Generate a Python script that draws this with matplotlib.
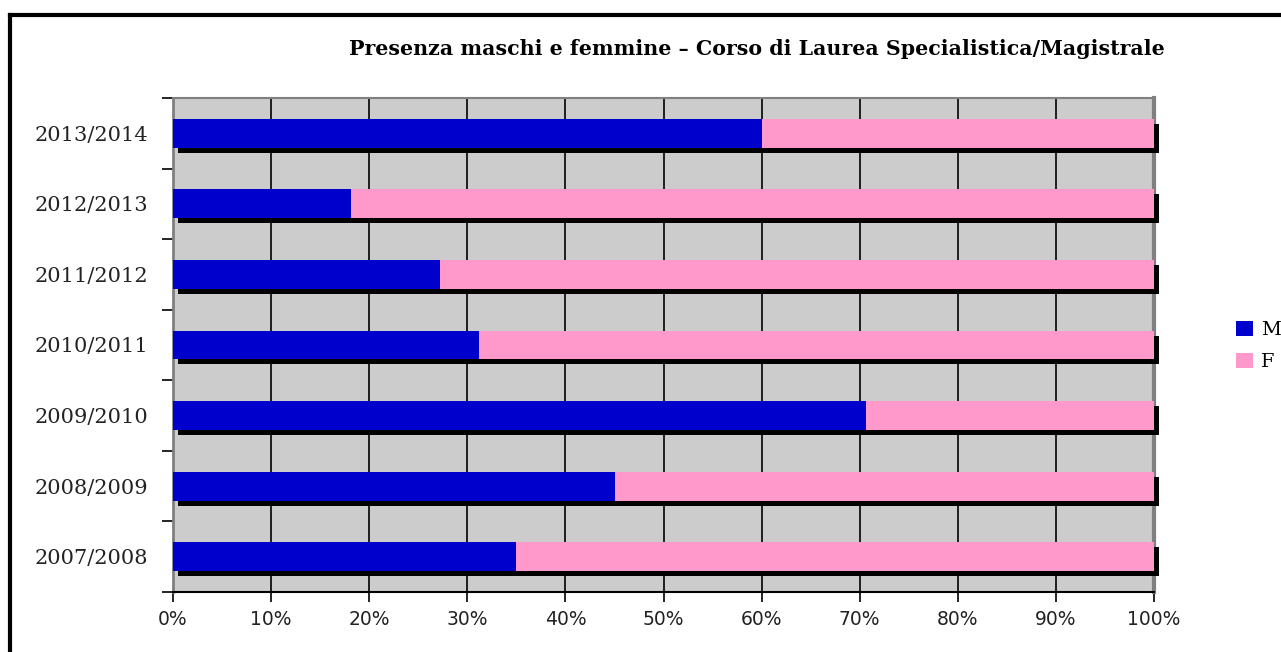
import matplotlib
matplotlib.use("Agg")
import matplotlib.pyplot as plt
import matplotlib.patheffects as pe
from matplotlib.lines import Line2D
from matplotlib.patches import Patch
import numpy as np

years = ["2007/2008", "2008/2009", "2009/2010", "2010/2011",
         "2011/2012", "2012/2013", "2013/2014"]
male_pct = [35.0, 45.1, 70.6, 31.2, 27.2, 18.1, 60.0]
female_pct = [100 - m for m in male_pct]
xtick_labels = [f"{v}%" for v in range(0, 101, 10)]

fig = plt.figure(figsize=(12.81, 6.52), dpi=100)
ax = fig.add_axes([173 / 1281, 1 - 592 / 652, 981 / 1281, 494 / 652])

y = np.arange(len(years))
shadow = [pe.SimplePatchShadow(offset=(3.6, -3.6), shadow_rgbFace="black", alpha=1.0), pe.Normal()]

ax.barh(y, male_pct, height=0.41, color="#0000CC",
        path_effects=shadow, clip_on=False, zorder=3)
ax.barh(y, female_pct, left=male_pct, height=0.41, color="#FF99CC",
        path_effects=shadow, clip_on=False, zorder=3)

ax.set_facecolor("#CCCCCC")
ax.set_xlim(0, 100)
ax.set_ylim(-0.5, len(years) - 0.5)
ax.set_axisbelow(True)
ax.xaxis.grid(True, color="black", linewidth=1.2)

ax.set_xticks(range(0, 101, 10))
ax.set_xticklabels(xtick_labels, family="DejaVu Sans", fontsize=13.5, color="#222222")
ax.tick_params(axis="x", length=7, width=1.2, pad=6)

ax.set_yticks(y)
ax.set_yticklabels(years, family="DejaVu Serif", fontsize=15, color="#222222")
ax.set_yticks(np.arange(-0.5, len(years), 1.0), minor=True)
ax.tick_params(axis="y", which="major", length=0, pad=18)
ax.tick_params(axis="y", which="minor", length=8, width=1.2)

for side in ["left", "top", "right"]:
    ax.spines[side].set_color("#808080")
ax.spines["left"].set_linewidth(2)
ax.spines["top"].set_linewidth(1.5)
ax.spines["right"].set_linewidth(3)
ax.spines["bottom"].set_color("black")
ax.spines["bottom"].set_linewidth(1.5)

fig.text(757 / 1281, 1 - 49 / 652,
         "Presenza maschi e femmine \u2013 Corso di Laurea Specialistica/Magistrale",
         ha="center", va="center", family="DejaVu Serif", fontweight="bold", fontsize=14.8)

handles = [Patch(facecolor="#0000CC", label="M"), Patch(facecolor="#FF99CC", label="F")]
ax.legend(handles=handles, loc="center left", bbox_to_anchor=(1218 / 1281, 1 - 346 / 652),
          bbox_transform=fig.transFigure, frameon=False, handlelength=0.9,
          handleheight=0.8, handletextpad=0.4, labelspacing=0.7,
          prop={"family": "DejaVu Serif", "size": 14})

# outer chart frame
fig.add_artist(Line2D([9.5 / 1281, 9.5 / 1281], [0, 1 - 15 / 652], color="black", linewidth=3,
                      transform=fig.transFigure))
fig.add_artist(Line2D([9.5 / 1281, 1], [1 - 15 / 652, 1 - 15 / 652], color="black", linewidth=3,
                      transform=fig.transFigure))

fig.savefig("out.png", dpi=100)
